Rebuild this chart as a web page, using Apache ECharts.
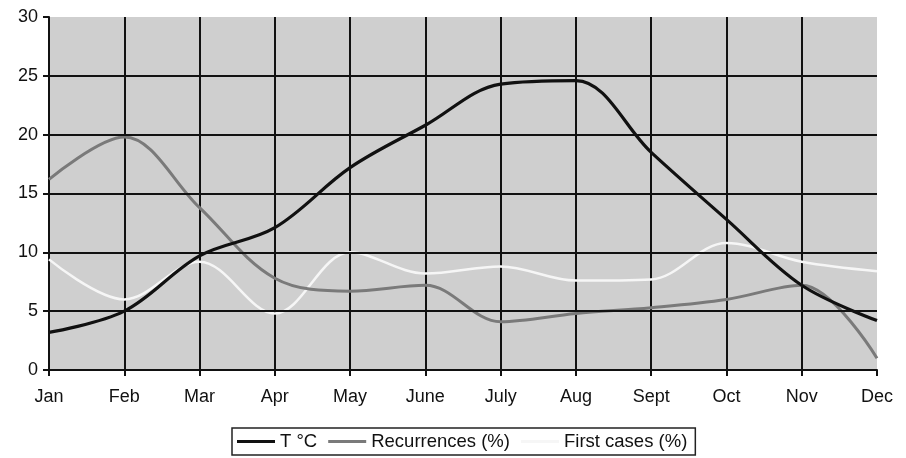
<!DOCTYPE html>
<html><head><meta charset="utf-8">
<script src="https://cdn.jsdelivr.net/npm/echarts@6/dist/echarts.min.js"></script>
<style>html,body{margin:0;padding:0;background:#fff}#c{width:906px;height:458px}</style>
</head><body><div id="c"></div>
<script>
var months = ['Jan','Feb','Mar','Apr','May','June','July','Aug','Sept','Oct','Nov','Dec'];
var tempC = [3.2, 5.0, 9.7, 12.1, 17.2, 20.8, 24.3, 24.6, 18.5, 12.8, 7.2, 4.2];
var recurrences = [16.2, 19.8, 13.8, 7.8, 6.7, 7.2, 4.1, 4.8, 5.3, 6.0, 7.2, 1.0];
var firstCases = [9.4, 6.0, 9.2, 4.8, 10.0, 8.2, 8.8, 7.6, 7.7, 10.8, 9.2, 8.4];
var gridValues = [5, 10, 15, 20, 25];

var chart = echarts.init(document.getElementById('c'));
var font = 'Liberation Sans, Arial, sans-serif';
chart.setOption({
  animation: false,
  textStyle: {fontFamily: font},
  grid: {left: 49, right: 29, top: 17, bottom: 88, show: true, backgroundColor: '#cfcfcf', borderWidth: 0},
  legend: {
    left: 232, top: 428, itemWidth: 38, itemHeight: 3, itemGap: 11, icon: 'rect',
    padding: [4, 8, 4, 5],
    borderColor: '#222', borderWidth: 1.5,
    textStyle: {fontSize: 18.5, color: '#111', fontFamily: font},
    data: ['T °C', 'Recurrences (%)', 'First cases (%)']
  },
  xAxis: {
    type: 'category', data: months, boundaryGap: false,
    axisLine: {lineStyle: {color: '#111', width: 2}},
    axisTick: {length: 6, lineStyle: {color: '#111', width: 2}},
    axisLabel: {fontSize: 18, color: '#111', margin: 18},
    splitLine: {show: true, interval: function(i){ return i !== 11; }, lineStyle: {color: '#111', width: 2}}
  },
  yAxis: {
    type: 'value', min: 0, max: 30, interval: 5,
    axisLine: {show: true, lineStyle: {color: '#111', width: 2}},
    axisTick: {show: true, length: 6, lineStyle: {color: '#111', width: 2}},
    axisLabel: {fontSize: 18, color: '#111', margin: 11},
    splitLine: {show: false}
  },
  series: [
    {name: 'gridlines', type: 'line', data: months.map(function(){return null;}), z: 1, silent: true,
     markLine: {silent: true, symbol: 'none', label: {show: false}, animation: false,
       lineStyle: {color: '#111', width: 2, type: 'solid'},
       data: gridValues.map(function(v){ return {yAxis: v}; })}},
    {name: 'T °C', type: 'line', data: tempC, smooth: 0.35, symbol: 'none', z: 5,
     lineStyle: {color: '#111', width: 3.2}, itemStyle: {color: '#111'}},
    {name: 'Recurrences (%)', type: 'line', data: recurrences, smooth: 0.35, symbol: 'none', z: 4,
     lineStyle: {color: '#7a7a7a', width: 3}, itemStyle: {color: '#7a7a7a'}},
    {name: 'First cases (%)', type: 'line', data: firstCases, smooth: 0.35, symbol: 'none', z: 3,
     lineStyle: {color: '#f6f6f6', width: 2.5}, itemStyle: {color: '#f6f6f6'}}
  ]
});
</script></body></html>
